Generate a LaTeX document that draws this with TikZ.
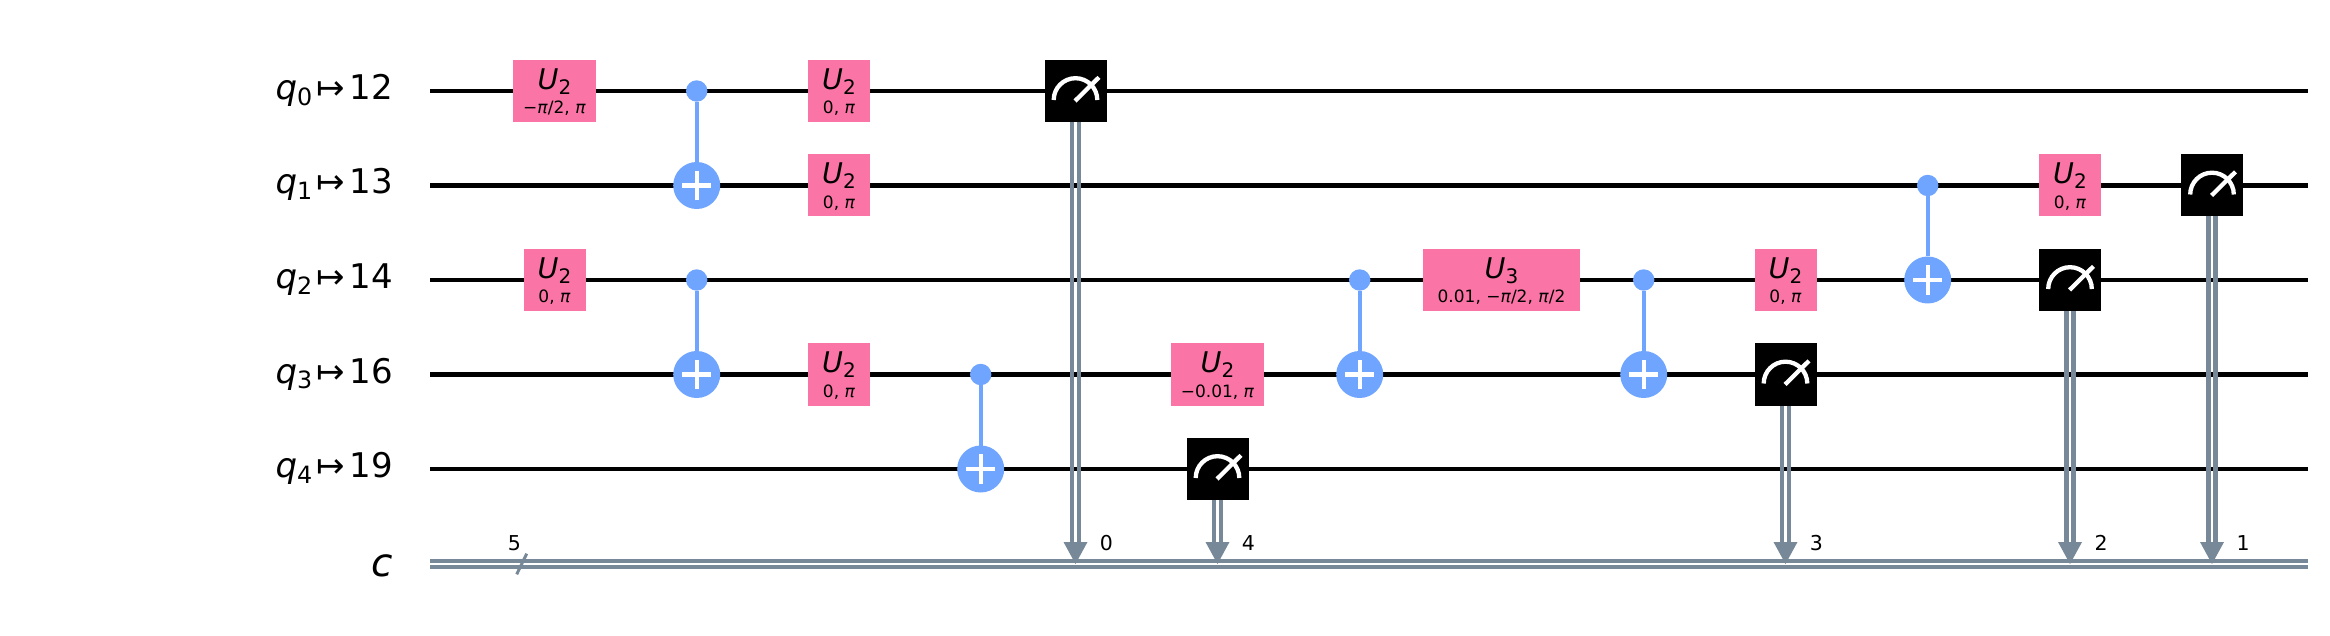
\documentclass[tikz,border=0pt]{standalone}
\usepackage{fontspec}
\setmainfont{DejaVu Sans}
\definecolor{gatepink}{HTML}{FA74A6}
\definecolor{cxblue}{HTML}{6FA4FF}
\definecolor{cgrey}{HTML}{778899}
\newcommand{\fsz}[1]{\fontsize{#1}{#1}\selectfont}
\newcommand{\qlab}[2]{\fsz{34}\textit{q}\raisebox{-5.7pt}{\fsz{23.8}#1}\hspace{4.5pt}↦\hspace{4.5pt}#2}
\newcommand{\gname}[2]{\fsz{28.5}\textit{#1}\raisebox{-4.8pt}{\fsz{20}#2}}
\newcommand{\ppi}{\textit{π}}
\tikzset{
  qwire/.style={line width=4.3pt,black},
  cwire/.style={line width=4.3pt,cgrey},
  cxline/.style={line width=4.3pt,cxblue},
  ugate/.style={rectangle,fill=gatepink,minimum height=62pt,inner sep=0pt,outer sep=0pt},
  meter/.style={rectangle,fill=black,minimum width=62pt,minimum height=62pt,inner sep=0pt,outer sep=0pt},
  ctrl/.style={circle,fill=cxblue,minimum size=21.4pt,inner sep=0pt,outer sep=0pt},
  targ/.style={circle,fill=cxblue,minimum size=47pt,inner sep=0pt,outer sep=0pt},
  plusbar/.style={line width=4.3pt,white},
  dial/.style={line width=4.3pt,white},
  lab/.style={anchor=base,inner sep=0pt,outer sep=0pt,text=black},
  reglab/.style={anchor=base east,inner sep=0pt,outer sep=0pt,text=black},
  parlab/.style={lab,font=\fsz{17}},
  bitlab/.style={anchor=base,inner sep=0pt,outer sep=0pt,font=\fsz{20.5},text=black}
}
% name, x, y, width, letter, sub, params
\newcommand{\ug}[7]{%
  \node[ugate,minimum width=#4pt] (#1) at (#2,#3) {};
  \node[lab] (#1n) at ([yshift=1.7pt]#1.center) {\gname{#5}{#6}};
  \node[parlab] (#1p) at ([yshift=-23pt]#1.center) {#7};
}
% name, x, control y, target y
\newcommand{\cx}[4]{%
  \node[ctrl] (#1c) at (#2,#3) {};
  \node[targ] (#1t) at (#2,#4) {};
  \draw[cxline] (#1c) -- (#1t);
  \draw[plusbar] ([xshift=-14.7pt]#1t.center) -- ([xshift=14.7pt]#1t.center);
  \draw[plusbar] ([yshift=-14.7pt]#1t.center) -- ([yshift=14.7pt]#1t.center);
}
% name, x, y, bit label
\newcommand{\meas}[4]{%
  \coordinate (#1a) at (#2,564);
  \coordinate (#1b) at (#2,#3);
  \coordinate (#1e) at (#2,546);
  \draw[cwire] ([xshift=-3.5pt]#1b) -- ([xshift=-3.5pt]#1e);
  \draw[cwire] ([xshift=3.5pt]#1b) -- ([xshift=3.5pt]#1e);
  \fill[cgrey] (#1a) -- ([xshift=-12pt,yshift=22pt]#1a) -- ([xshift=12pt,yshift=22pt]#1a) -- cycle;
  \node[meter] (#1) at (#2,#3) {};
  \draw[dial] ([xshift=-21.8pt,yshift=-9pt]#1.center) arc[start angle=180,end angle=0,radius=21.8pt];
  \draw[dial] ([xshift=-.5pt,yshift=-10pt]#1.center) -- ([xshift=23.5pt,yshift=13.7pt]#1.center);
  \node[bitlab] (#1l) at ([xshift=31pt,yshift=13.3pt]#1a) {#4};
}
\begin{document}
\begin{tikzpicture}[x=1pt,y=-1pt]
\useasboundingbox (0,0) rectangle (2330,636);
% wires
\foreach \n/\y in {0/91,1/185.5,2/280,3/374.5,4/469}{
  \coordinate (w\n s) at (430,\y);
  \coordinate (w\n e) at (2308,\y);
  \draw[qwire] (w\n s) -- (w\n e);
}
\coordinate (c1s) at (430,561); \coordinate (c1e) at (2308,561);
\coordinate (c2s) at (430,567); \coordinate (c2e) at (2308,567);
\draw[cgrey,line width=4pt] (c1s) -- (c1e);
\draw[cgrey,line width=4pt] (c2s) -- (c2e);
\coordinate (sl1) at (516.7,574.3); \coordinate (sl2) at (526.7,553.7);
\draw[line width=3pt,cgrey] (sl1) -- (sl2);
\node[bitlab] (five) at (514.5,550.7) {5};
% register labels
\node[reglab] (l0) at (393,99.5) {\qlab{0}{12}};
\node[reglab] (l1) at (393,194) {\qlab{1}{13}};
\node[reglab] (l2) at (393,288.5) {\qlab{2}{14}};
\node[reglab] (l3) at (393,383) {\qlab{3}{16}};
\node[reglab] (l4) at (393,477.5) {\qlab{4}{19}};
\node[reglab] (lc) at (393,576) {\fsz{39}\textit{c}};
% measures
\meas{m0}{1075.5}{91}{0}
\meas{m4}{1217.5}{469}{4}
\meas{m3}{1785.5}{374.5}{3}
\meas{m2}{2070}{280}{2}
\meas{m1}{2212}{185.5}{1}
% gates
\ug{ua}{554.5}{91}{83}{U}{2}{−\ppi/2, \ppi}
\ug{ub}{554.5}{280}{62}{U}{2}{0, \ppi}
\cx{xa}{696.7}{91}{185.5}
\cx{xb}{696.7}{280}{374.5}
\ug{uc}{839}{91}{62}{U}{2}{0, \ppi}
\ug{ud}{839}{185.5}{62}{U}{2}{0, \ppi}
\ug{ue}{839}{374.5}{62}{U}{2}{0, \ppi}
\cx{xc}{980.7}{374.5}{469}
\ug{uf}{1217.5}{374.5}{93}{U}{2}{−0.01, \ppi}
\cx{xd}{1359.7}{280}{374.5}
\ug{ug}{1501.5}{280}{157}{U}{3}{0.01, −\ppi/2, \ppi/2}
\cx{xe}{1643.7}{280}{374.5}
\ug{uh}{1785.5}{280}{62}{U}{2}{0, \ppi}
\cx{xf}{1927.7}{185.5}{280}
\ug{ui}{2070}{185.5}{62}{U}{2}{0, \ppi}
\end{tikzpicture}
\end{document}
